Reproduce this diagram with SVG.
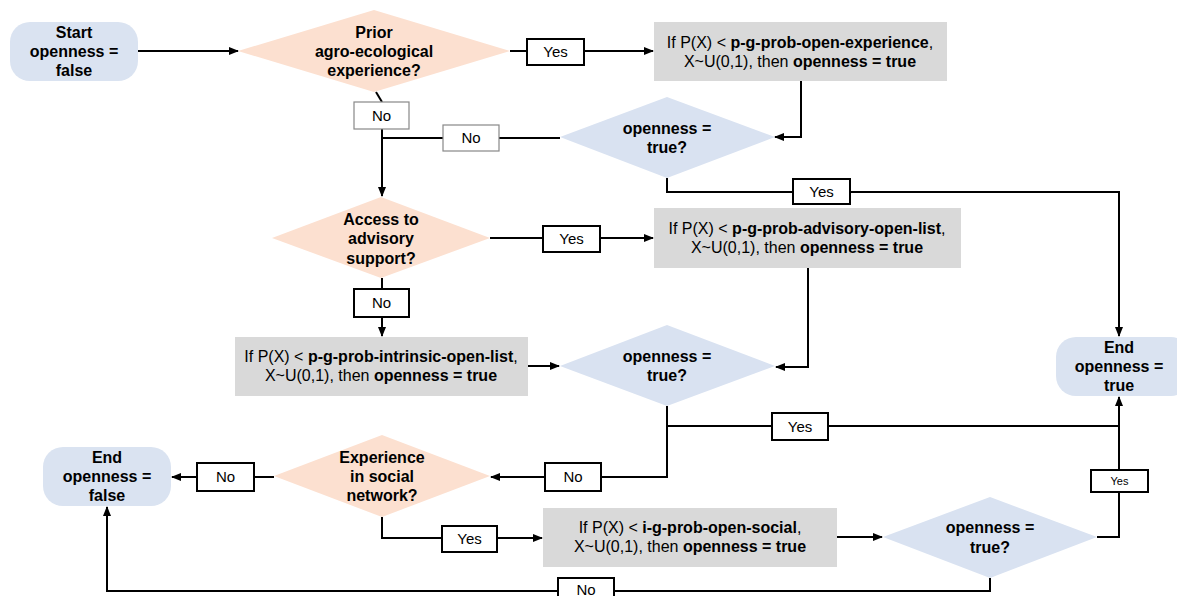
<svg xmlns="http://www.w3.org/2000/svg" width="1177" height="596" viewBox="0 0 1177 596">
<defs>
<marker id="arr" markerWidth="10" markerHeight="10" refX="9" refY="5" orient="auto" markerUnits="userSpaceOnUse">
<path d="M0,1 L10,5 L0,9 Z" fill="#000"/>
</marker>
<style>
.term{fill:#dae3f1;}
.dq{fill:#fce0d0;}
.db{fill:#d9e2f1;}
.proc{fill:#d9d9d9;}
.t{font-family:"Liberation Sans",Arial,sans-serif;font-size:16px;fill:#000;text-anchor:middle;}
.l{font-family:"Liberation Sans",Arial,sans-serif;font-size:15px;fill:#000;text-anchor:middle;}
.b{font-weight:bold;}
.lbl{fill:#fff;stroke:#000;stroke-width:2;}
.lblg{fill:#fff;stroke:#888;stroke-width:1.2;}
.c{fill:none;stroke:#000;stroke-width:2;}
</style>
</defs>
<rect width="1177" height="596" fill="#fff"/>

<g id="connectors">
<path class="c" d="M138,51 L238,51" marker-end="url(#arr)"/>
<path class="c" d="M510,51 L653,51" marker-end="url(#arr)"/>
<path class="c" d="M801,81 L801,137 L775,137" marker-end="url(#arr)"/>
<path class="c" d="M560,138 L382,138"/>
<path class="c" d="M376,92 L382,102"/>
<path class="c" d="M382,129 L382,196" marker-end="url(#arr)"/>
<path class="c" d="M667,178 L667,192 L1119,192 L1119,336" marker-end="url(#arr)"/>
<path class="c" d="M490,238 L653,238" marker-end="url(#arr)"/>
<path class="c" d="M382,278 L382,336" marker-end="url(#arr)"/>
<path class="c" d="M808,268 L808,367 L776,367" marker-end="url(#arr)"/>
<path class="c" d="M528,366 L559,366" marker-end="url(#arr)"/>
<path class="c" d="M667,406 L667,477 L491,477" marker-end="url(#arr)"/>
<path class="c" d="M667,426 L1119,426"/>
<path class="c" d="M274,477 L172,477" marker-end="url(#arr)"/>
<path class="c" d="M382,517 L382,538 L542,538" marker-end="url(#arr)"/>
<path class="c" d="M837,537 L882,537" marker-end="url(#arr)"/>
<path class="c" d="M1097,537 L1119,537 L1119,397" marker-end="url(#arr)"/>
<path class="c" d="M990,578 L990,591 L107,591 L107,507" marker-end="url(#arr)"/>
</g>

<g id="label-yes-1"><rect class="lbl" x="527" y="39" width="57" height="26"/><text class="l" x="555.5" y="57">Yes</text></g>
<g id="label-no-1"><rect class="lblg" x="354" y="102" width="55" height="27"/><text class="l" x="381.5" y="121">No</text></g>
<g id="label-no-2"><rect class="lblg" x="443" y="125" width="56" height="26"/><text class="l" x="471" y="143">No</text></g>
<g id="label-yes-2"><rect class="lbl" x="793" y="179" width="57" height="25"/><text class="l" x="821.5" y="197">Yes</text></g>
<g id="label-yes-3"><rect class="lbl" x="543" y="226" width="57" height="26"/><text class="l" x="571.5" y="244">Yes</text></g>
<g id="label-no-3"><rect class="lbl" x="354" y="289" width="55" height="28"/><text class="l" x="381.5" y="308">No</text></g>
<g id="label-yes-4"><rect class="lbl" x="772" y="413" width="56" height="27"/><text class="l" x="800" y="432">Yes</text></g>
<g id="label-no-4"><rect class="lbl" x="545" y="463" width="56" height="28"/><text class="l" x="573" y="482">No</text></g>
<g id="label-no-5"><rect class="lbl" x="197" y="463" width="57" height="28"/><text class="l" x="225.5" y="482">No</text></g>
<g id="label-yes-5"><rect class="lbl" x="442" y="526" width="55" height="26"/><text class="l" x="469.5" y="544">Yes</text></g>
<g id="label-yes-6"><rect class="lbl" x="1091" y="470" width="57" height="22"/><text class="l" x="1119.5" y="485" style="font-size:11px">Yes</text></g>
<g id="label-no-6"><rect class="lbl" x="558" y="578" width="56" height="26"/><text class="l" x="586" y="595">No</text></g>

<g id="start">
<rect class="term" x="10" y="22" width="128" height="59" rx="20"/>
<text class="t b" x="74" y="38">Start</text>
<text class="t b" x="74" y="57">openness =</text>
<text class="t b" x="74" y="76">false</text>
</g>

<g id="dec-prior">
<polygon class="dq" points="238,51 374,10 510,51 374,92"/>
<text class="t b" x="374" y="38">Prior</text>
<text class="t b" x="374" y="57">agro-ecological</text>
<text class="t b" x="374" y="76">experience?</text>
</g>

<g id="proc-experience">
<rect class="proc" x="654" y="22" width="293" height="59"/>
<text class="t" x="800" y="48">If P(X) &lt; <tspan class="b">p-g-prob-open-experience</tspan>,</text>
<text class="t" x="800" y="67">X~U(0,1), then <tspan class="b">openness = true</tspan></text>
</g>

<g id="dec-open-1">
<polygon class="db" points="560,137 667,97 775,137 667,178"/>
<text class="t b" x="667" y="134">openness =</text>
<text class="t b" x="667" y="153">true?</text>
</g>

<g id="dec-advisory">
<polygon class="dq" points="272,238 381,197 490,238 381,278"/>
<text class="t b" x="381" y="225">Access to</text>
<text class="t b" x="381" y="244">advisory</text>
<text class="t b" x="381" y="264">support?</text>
</g>

<g id="proc-advisory">
<rect class="proc" x="654" y="208" width="307" height="60"/>
<text class="t" x="807" y="234">If P(X) &lt; <tspan class="b">p-g-prob-advisory-open-list</tspan>,</text>
<text class="t" x="807" y="253">X~U(0,1), then <tspan class="b">openness = true</tspan></text>
</g>

<g id="proc-intrinsic">
<rect class="proc" x="235" y="337" width="293" height="59"/>
<text class="t" x="381" y="362">If P(X) &lt; <tspan class="b">p-g-prob-intrinsic-open-list</tspan>,</text>
<text class="t" x="381" y="381">X~U(0,1), then <tspan class="b">openness = true</tspan></text>
</g>

<g id="dec-open-2">
<polygon class="db" points="560,366 667,325 775,366 667,406"/>
<text class="t b" x="667" y="362">openness =</text>
<text class="t b" x="667" y="381">true?</text>
</g>

<g id="end-true">
<rect class="term" x="1056" y="337" width="135" height="59" rx="20"/>
<text class="t b" x="1119" y="353">End</text>
<text class="t b" x="1119" y="372">openness =</text>
<text class="t b" x="1119" y="391">true</text>
</g>

<g id="dec-social">
<polygon class="dq" points="274,476 382,435 490,476 382,517"/>
<text class="t b" x="382" y="463">Experience</text>
<text class="t b" x="382" y="482">in social</text>
<text class="t b" x="382" y="501">network?</text>
</g>

<g id="end-false">
<rect class="term" x="43" y="447" width="128" height="59" rx="20"/>
<text class="t b" x="107" y="463">End</text>
<text class="t b" x="107" y="482">openness =</text>
<text class="t b" x="107" y="501">false</text>
</g>

<g id="proc-social">
<rect class="proc" x="543" y="508" width="294" height="59"/>
<text class="t" x="690" y="533">If P(X) &lt; <tspan class="b">i-g-prob-open-social</tspan>,</text>
<text class="t" x="690" y="552">X~U(0,1), then <tspan class="b">openness = true</tspan></text>
</g>

<g id="dec-open-3">
<polygon class="db" points="883,537 990,497 1097,537 990,578"/>
<text class="t b" x="990" y="533">openness =</text>
<text class="t b" x="990" y="553">true?</text>
</g>
</svg>
